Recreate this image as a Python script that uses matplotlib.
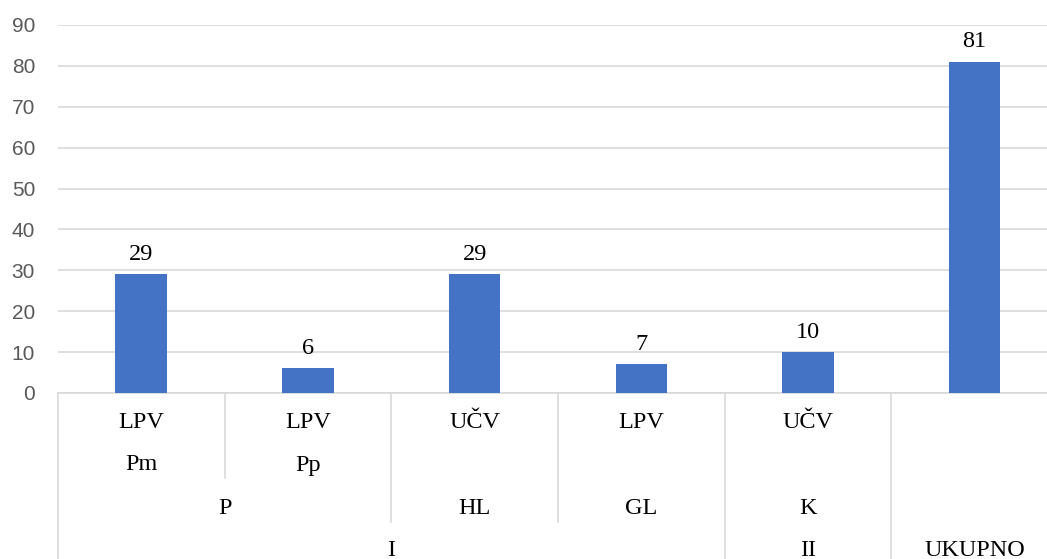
import matplotlib.pyplot as plt

level1 = ["LPV", "LPV", "UČV", "LPV", "UČV", ""]
level2 = ["Pm", "Pp", "", "", "", ""]
level3 = [("P", 0, 2), ("HL", 2, 3), ("GL", 3, 4), ("K", 4, 5)]
level4 = [("I", 0, 4), ("II", 4, 5), ("UKUPNO", 5, 6)]
values = [29, 6, 29, 7, 10, 81]

W, H = 1047, 559
fig = plt.figure(figsize=(W / 100, H / 100), dpi=100)
# axes spans slightly past the right edge, like the source chart
ax = fig.add_axes([58 / W, 1 - 393 / H, 1000 / W, (393 - 25) / H])

x = list(range(len(values)))
ax.bar(x, values, width=0.31, color="#4472C4", zorder=3)
for xi, v in zip(x, values):
    ax.text(xi, v + 2.3, str(v), ha="center", va="bottom",
            family="Liberation Serif", fontsize=17.5)

ax.set_xlim(-0.5, len(values) - 0.5)
ax.set_ylim(0, 90)
ax.set_yticks(range(0, 91, 10))
ax.tick_params(axis="y", length=0, pad=16.5, labelsize=15, labelcolor="#595959")
ax.set_xticks([])
ax.grid(axis="y", color="#d9d9d9", linewidth=1.2, zorder=0)
for s in ["top", "right", "left"]:
    ax.spines[s].set_visible(False)
ax.spines["bottom"].set_color("#d9d9d9")
ax.spines["bottom"].set_linewidth(1.2)
for lbl in ax.get_yticklabels():
    lbl.set_family("Liberation Sans")

# multi-level category axis, drawn in data x / pixel y
tr = ax.get_xaxis_transform()


def py(p):
    # pixel row of the figure -> axes y coordinate
    y0 = 1 - 393 / H
    h = (393 - 25) / H
    return ((1 - p / H) - y0) / h


lc = "#d9d9d9"
txt = dict(ha="center", va="center", family="Liberation Serif", fontsize=17.5,
           transform=tr, clip_on=False)

for i, t in enumerate(level1):
    ax.text(i, py(422), t, **txt)
for i, t in enumerate(level2):
    ax.text(i, py(465), t, **txt)
for t, a, b in level3:
    ax.text((a + b) / 2 - 0.5, py(508), t, **txt)
for t, a, b in level4:
    ax.text((a + b) / 2 - 0.5, py(550), t, **txt)

# divider lines: boundary index -> bottom pixel row
dividers = {0: 559, 1: 478, 2: 522, 3: 522, 4: 559, 5: 559}
for k, bottom in dividers.items():
    ax.plot([k - 0.5, k - 0.5], [py(393), py(bottom)], color=lc,
            linewidth=1.2, transform=tr, clip_on=False)

fig.savefig("out.png", dpi=100)
